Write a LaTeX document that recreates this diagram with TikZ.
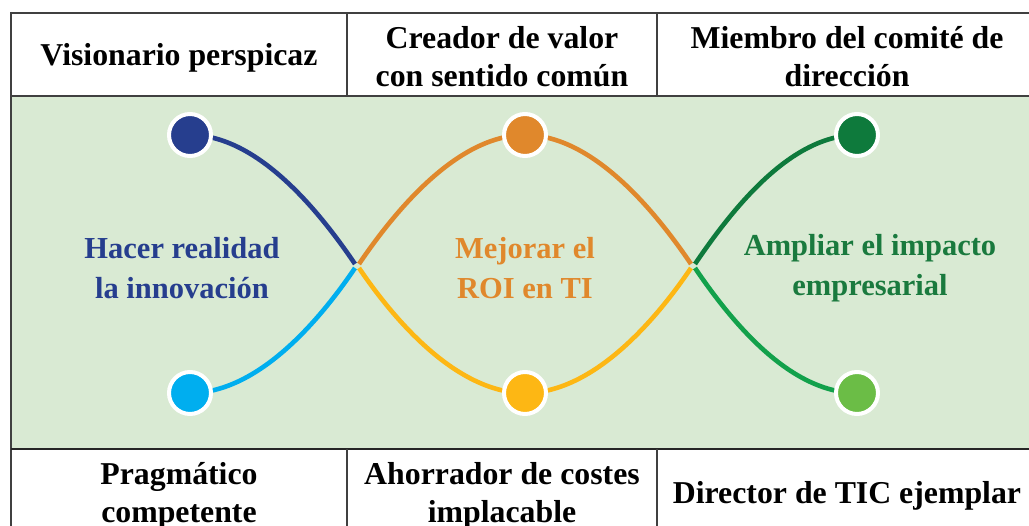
\documentclass[tikz,border=0pt]{standalone}
\usepackage{fontspec}
\setmainfont{Liberation Serif}
\definecolor{navy}{RGB}{38,62,142}
\definecolor{skyb}{RGB}{0,174,239}
\definecolor{orng}{RGB}{224,136,44}
\definecolor{yell}{RGB}{253,183,20}
\definecolor{dgrn}{RGB}{14,122,60}
\definecolor{mgrn}{RGB}{18,161,75}
\definecolor{lgrn}{RGB}{107,189,70}
\definecolor{bggrn}{RGB}{217,234,211}
\definecolor{txgrn}{RGB}{26,122,62}
\definecolor{rule}{RGB}{64,64,64}
\tikzset{
  cell/.style={font=\bfseries\fontsize{31.8}{38}\selectfont, align=center, text=black, inner sep=0pt},
  midtext/.style={font=\bfseries\fontsize{30.5}{40}\selectfont, align=center, inner sep=0pt},
  dot/.style={circle, draw=white, line width=4pt, minimum size=42pt, inner sep=0pt},
  strand/.style={line width=4.6pt},
  tline/.style={draw=rule, line width=2pt}
}
\begin{document}
\begin{tikzpicture}[x=1pt,y=-1pt]
\useasboundingbox (0,0) rectangle (1029,526);
\fill[white] (0,0) rectangle (1029,526);
% green band
\fill[bggrn] (11,96) rectangle (1029,449);
% table rules
\draw[tline] (11,13) -- (1029,13);
\draw[tline] (11,12) -- (11,526);
\draw[tline] (11,96) -- (1029,96);
\draw[tline, draw=black!85] (11,449) -- (1029,449);
\draw[tline] (347,13) -- (347,96);
\draw[tline] (657,13) -- (657,96);
\draw[tline] (347,449) -- (347,526);
\draw[tline] (657,449) -- (657,526);
% header texts
\node[cell] (h1) at (179,58) {Visionario perspicaz};
\node[cell] (h2) at (502,57) {Creador de valor\\con sentido común};
\node[cell] (h3) at (847,57) {Miembro del comité de\\dirección};
\node[cell] (f1) at (179,496) {Pragmático\\competente};
\node[cell] (f2) at (502,496) {Ahorrador de costes\\implacable};
\node[cell] (f3) at (847,496) {Director de TIC ejemplar};
% middle texts
\node[midtext, text=navy] (m1) at (182,268) {Hacer realidad\\la innovación};
\node[midtext, text=orng] (m2) at (525,268) {Mejorar el\\ROI en TI};
\node[midtext, text=txgrn] (m3) at (870,268) {Ampliar el impacto\\empresarial};
% crossing coordinates
\coordinate (xa1) at (355,264);
\coordinate (xa2) at (355,268);
\coordinate (xb1) at (359,264);
\coordinate (xb2) at (359,268);
\coordinate (xc1) at (691,264);
\coordinate (xc2) at (691,268);
\coordinate (xd1) at (695,264);
\coordinate (xd2) at (695,268);
% circle positions
\coordinate (p1) at (190,135);
\coordinate (p2) at (190,393);
\coordinate (p3) at (525,135);
\coordinate (p4) at (525,393);
\coordinate (p5) at (857,135);
\coordinate (p6) at (857,393);
% strands
\draw[strand, navy] (p1) .. controls (255,135) and (315,205) .. (xa1);
\draw[strand, skyb] (p2) .. controls (255,393) and (315,327) .. (xa2);
\draw[strand, orng] (xb1) .. controls (399,205) and (460,135) .. (p3) .. controls (590,135) and (651,205) .. (xc1);
\draw[strand, yell] (xb2) .. controls (399,327) and (460,393) .. (p4) .. controls (590,393) and (651,327) .. (xc2);
\draw[strand, dgrn] (xd1) .. controls (735,205) and (792,135) .. (p5);
\draw[strand, mgrn] (xd2) .. controls (735,327) and (792,393) .. (p6);
% dots
\node[dot, fill=navy] (c1) at (p1) {};
\node[dot, fill=skyb] (c2) at (p2) {};
\node[dot, fill=orng] (c3) at (p3) {};
\node[dot, fill=yell] (c4) at (p4) {};
\node[dot, fill=dgrn] (c5) at (p5) {};
\node[dot, fill=lgrn] (c6) at (p6) {};
\end{tikzpicture}
\end{document}
